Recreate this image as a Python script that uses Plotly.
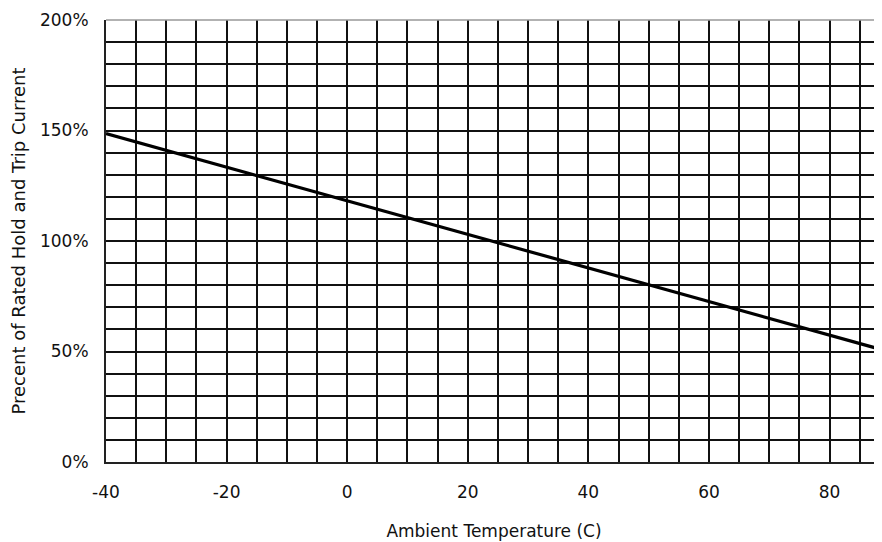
import plotly.graph_objects as go

# Data
temperature_c = [-40, 0, 40, 90]
percent_rated = [148.6, 118.3, 87.9, 49.8]

x_tick_vals = [-40, -20, 0, 20, 40, 60, 80]
x_tick_text = ["-40", "-20", "0", "20", "40", "60", "80"]
y_tick_vals = [0, 50, 100, 150, 200]
y_tick_text = ["0%", "50%", "100%", "150%", "200%"]

FONT = "DejaVu Sans"

fig = go.Figure()
fig.add_trace(go.Scatter(
    x=temperature_c, y=percent_rated, mode="lines",
    line=dict(color="#000000", width=3.2),
    showlegend=False, hoverinfo="skip",
))

grid_style = dict(showgrid=True, gridcolor="#111111", gridwidth=1.8)

fig.update_layout(
    width=874, height=534,
    margin=dict(l=98, r=0, t=12, b=80),
    paper_bgcolor="white", plot_bgcolor="white",
    font=dict(family=FONT, size=17, color="#111111"),
    xaxis=dict(
        range=[-40, 88.7], tickvals=x_tick_vals, ticktext=x_tick_text, ticks="",
        ticklabelstandoff=14, automargin=False,
        showline=True, linecolor="#222222", linewidth=2, mirror=False,
        zeroline=False,
        minor=dict(dtick=5, tick0=-40, showgrid=True, gridcolor="#111111", gridwidth=1.8),
        title=dict(text="Ambient Temperature (C)", font=dict(family=FONT, size=17, color="#111111"), standoff=24),
        **grid_style,
    ),
    yaxis=dict(
        range=[0, 200], tickvals=y_tick_vals, ticktext=y_tick_text, ticks="",
        ticklabelstandoff=12, automargin=False,
        showline=True, linecolor="#222222", linewidth=2, mirror=False,
        zeroline=False,
        minor=dict(dtick=10, tick0=0, showgrid=True, gridcolor="#111111", gridwidth=1.8),
        title=dict(text="Precent of Rated Hold and Trip Current", font=dict(family=FONT, size=18, color="#111111"), standoff=14),
        **grid_style,
    ),
)

fig.add_shape(type="line", xref="paper", yref="paper", x0=0, x1=1, y0=1, y1=1,
              line=dict(color="#999999", width=1.5))

fig.write_html("out.html")
